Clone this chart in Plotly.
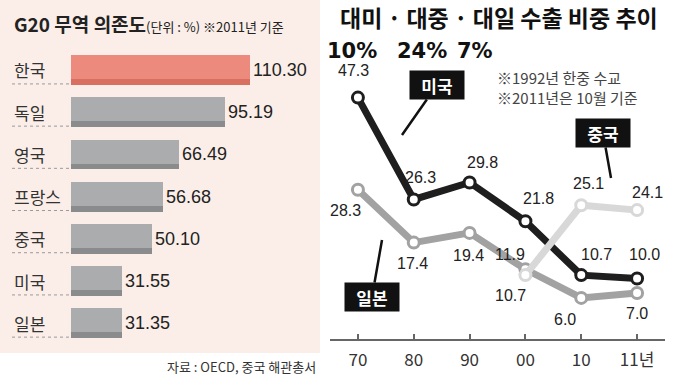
import plotly.graph_objects as go

# ---------------- data ----------------
countries = ["한국", "독일", "영국", "프랑스", "중국", "미국", "일본"]
trade_dep = [110.30, 95.19, 66.49, 56.68, 50.10, 31.55, 31.35]

years = ["70", "80", "90", "00", "10", "11년"]
us_share = [47.3, 26.3, 29.8, 21.8, 10.7, 10.0]
jp_share = [28.3, 17.4, 19.4, 11.9, 6.0, 7.0]
cn_years = ["00", "10", "11년"]
cn_share = [10.7, 25.1, 24.1]

# ---------------- styles ----------------
W, H = 675, 375
KFONT = "Noto Sans CJK KR"
NFONT = "Liberation Sans Narrow, Liberation Sans, Arial"
PINK = "#fbeee8"
US_C, JP_C, CN_C = "#1e1e1e", "#a2a2a2", "#d8d8d8"

def px(xp):
    return xp / W

def py(yp):
    return 1 - yp / H

bar_colors = ["#ec8a7d"] + ["#abacae"] * (len(countries) - 1)
shade_colors = ["#d9705f"] + ["#8a8b8d"] * (len(countries) - 1)

fig = go.Figure()

# left: bars
fig.add_trace(go.Bar(
    x=trade_dep, y=countries, orientation="h", xaxis="x", yaxis="y",
    marker=dict(color=bar_colors, line=dict(width=0)),
    width=0.71, offset=-0.355,
    text=[f"{v:.2f}" for v in trade_dep], textposition="outside",
    textfont=dict(family=NFONT, size=18, color="#222"),
    cliponaxis=False, hoverinfo="skip", showlegend=False))
fig.add_trace(go.Bar(
    x=trade_dep, y=countries, orientation="h", xaxis="x", yaxis="y",
    marker=dict(color=shade_colors, line=dict(width=0)),
    width=0.14, offset=0.215, hoverinfo="skip", showlegend=False))

# right: lines
def line_trace(xs, ys, color):
    return go.Scatter(
        x=xs, y=ys, xaxis="x2", yaxis="y2", mode="lines+markers",
        line=dict(color=color, width=7),
        marker=dict(size=11, color="white", line=dict(color=color, width=3)),
        cliponaxis=False, hoverinfo="skip", showlegend=False)

fig.add_trace(line_trace(years, jp_share, JP_C))
fig.add_trace(line_trace(years, us_share, US_C))
fig.add_trace(line_trace(cn_years, cn_share, CN_C))

annotations = []
shapes = []

# pink background for left panel
shapes.append(dict(type="rect", xref="paper", yref="paper",
                   x0=0, x1=px(320), y0=py(353), y1=1,
                   fillcolor=PINK, line=dict(width=0), layer="below"))

# left category labels + dotted lines
for c in countries:
    annotations.append(dict(xref="paper", yref="y", x=px(12), y=c,
                            text=c, showarrow=False, xanchor="left",
                            yanchor="middle",
                            font=dict(family=KFONT, size=17, color="#333")))
for i in range(len(countries)):
    shapes.append(dict(type="line", xref="paper", yref="y",
                       x0=px(12), x1=px(70), y0=i + 0.33, y1=i + 0.33,
                       line=dict(color="#9a9a9a", width=1, dash="dot")))

# left title
annotations.append(dict(
    xref="paper", yref="paper", x=px(12), y=py(23), xanchor="left",
    yanchor="middle", showarrow=False,
    text="<b>G20 무역 의존도</b><span style='font-size:13px'>(단위 : %) ※2011년 기준</span>",
    font=dict(family=KFONT, size=19, color="#222")))
# source
annotations.append(dict(
    xref="paper", yref="paper", x=px(318), y=py(366), xanchor="right",
    yanchor="middle", showarrow=False, text="자료 : OECD, 중국 해관총서",
    font=dict(family=KFONT, size=13, color="#333")))

# right title
annotations.append(dict(
    xref="paper", yref="paper", x=px(499), y=py(17), xanchor="center",
    yanchor="middle", showarrow=False,
    text="<b>대미 · 대중 · 대일 수출 비중 추이</b>",
    font=dict(family=KFONT, size=23, color="#111")))
# 2011 shares
for val, cx in zip([us_share[-1], cn_share[-1], jp_share[-1]], [352, 422, 475]):
    annotations.append(dict(
        xref="paper", yref="paper", x=px(cx), y=py(51), xanchor="center",
        yanchor="middle", showarrow=False, text=f"<b>{round(val)}%</b>",
        font=dict(family="DejaVu Sans", size=21, color="#111")))
# notes
for txt, yy in [("※1992년 한중 수교", 78), ("※2011년은 10월 기준", 98)]:
    annotations.append(dict(
        xref="paper", yref="paper", x=px(495), y=py(yy), xanchor="left",
        yanchor="middle", showarrow=False, text=txt,
        font=dict(family=KFONT, size=15, color="#444")))

# series labels (black boxes)
for txt, tip, box in [("미국", (402, 135), (437, 85)),
                      ("중국", (611, 178), (603, 133)),
                      ("일본", (382, 240), (372, 297))]:
    annotations.append(dict(
        xref="paper", yref="paper", x=px(tip[0]), y=py(tip[1]),
        ax=box[0] - tip[0], ay=box[1] - tip[1], axref="pixel", ayref="pixel",
        text=f"<b>{txt}</b>", showarrow=True, arrowhead=0, arrowwidth=2.5,
        arrowcolor="#111", standoff=0,
        bgcolor="#111", width=52, height=26,
        font=dict(family=KFONT, size=17, color="white")))

# data labels
us_off = [(-4, -27), (7, -22), (13, -20), (13, -23), (15, -21), (7, -24)]
jp_off = [(-12, 21), (-1, 21), (-1, 23), (-15, -15), (-16, 22), (0, 20)]
cn_off = [(-15, 20), (7, -22), (10, -18)]
for xs, ys, offs in [(years, us_share, us_off), (years, jp_share, jp_off),
                     (cn_years, cn_share, cn_off)]:
    for xv, yv, (dx, dy) in zip(xs, ys, offs):
        annotations.append(dict(
            xref="x2", yref="y2", x=years.index(xv), y=yv,
            xshift=dx, yshift=-dy,
            text=f"{yv:.1f}", showarrow=False,
            font=dict(family="Liberation Sans, Arial", size=16, color="#222")))

fig.update_layout(
    width=W, height=H, margin=dict(l=0, r=0, t=0, b=0),
    paper_bgcolor="white", plot_bgcolor="rgba(0,0,0,0)",
    barmode="overlay", bargap=0,
    xaxis=dict(domain=[px(71), px(323)], range=[0, 155.6], visible=False,
               anchor="y"),
    yaxis=dict(domain=[py(344.3), py(48.9)], type="category",
               categoryarray=countries, range=[6.5, -0.5], visible=False,
               anchor="x"),
    xaxis2=dict(domain=[px(330), px(665)], type="category",
                categoryarray=years, range=[-0.5, 5.5], anchor="y2",
                showline=True, linecolor="#666", linewidth=1.5,
                ticks="inside", ticklen=5, tickcolor="#666", tickwidth=1.5,
                tickfont=dict(family=KFONT, size=17, color="#333"),
                showgrid=False, ticklabelstandoff=5),
    yaxis2=dict(domain=[py(339), py(60)], range=[-2.47, 55.05],
                visible=False, anchor="x2"),
    annotations=annotations, shapes=shapes,
)

fig.write_html("out.html", config={"displayModeBar": False},
               post_script="document.body.style.margin='0';document.body.style.overflow='hidden';")
